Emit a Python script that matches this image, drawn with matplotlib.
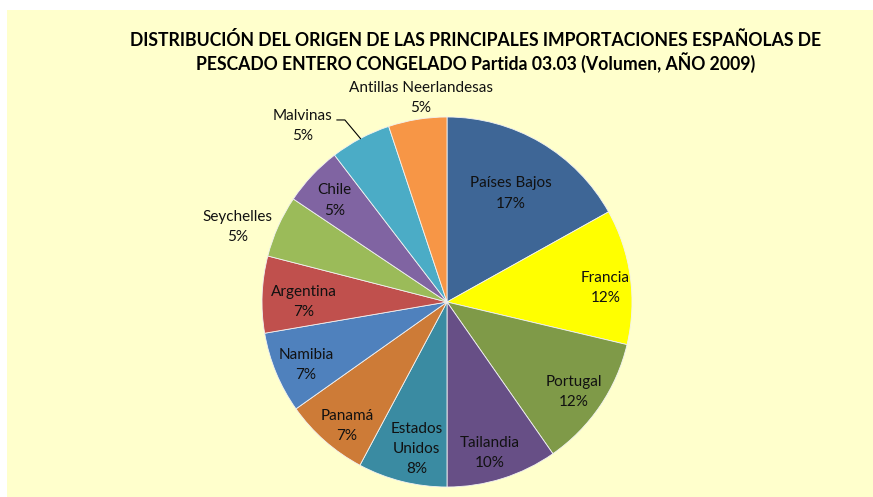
import numpy as np
import matplotlib.pyplot as plt
from matplotlib.patches import Rectangle

# Shares (percent of volume)
countries = ['Países Bajos', 'Francia', 'Portugal', 'Tailandia', 'Estados\nUnidos',
             'Panamá', 'Namibia', 'Argentina', 'Seychelles', 'Chile', 'Malvinas',
             'Antillas Neerlandesas']
shares = [16.9, 11.8, 11.6, 9.7, 7.8, 7.4, 7.1, 6.7, 5.4, 5.2, 5.3, 5.1]
colors = ['#3E6696', '#FFFF00', '#7F9A48', '#674F86', '#3A8BA2', '#CD7B37',
          '#4F81BD', '#C0504D', '#9BBB59', '#8064A2', '#4BACC6', '#F79646']

# label placement: fraction of the radius and clockwise nudge (deg) from mid-wedge
label_r = [0.68, 0.86, 0.84, 0.85, 0.81, 0.86, 0.835, 0.773, 1.20, 0.82, 1.233, 1.11]
label_nudge = [0, 2.8, 1.0, 1.7, -2.3, -2.4, -1.6, -2.3, -4.5, -1.2, -11.5, 1.9]

plt.rcParams['font.family'] = ['Lato', 'DejaVu Sans']

W, H = 873, 497
fig = plt.figure(figsize=(W / 100, H / 100), dpi=100, facecolor='white')
fig.patches.append(Rectangle((7 / W, 0), 1 - 7 / W, (H - 10) / H,
                             transform=fig.transFigure, facecolor='#FFFFCC',
                             edgecolor='none', zorder=-5))

fig.text(476 / W, 1 - 40 / H,
         'DISTRIBUCIÓN DEL ORIGEN DE LAS PRINCIPALES IMPORTACIONES ESPAÑOLAS DE',
         ha='center', va='center', fontsize=12.7, fontweight='bold', color='#000000')
fig.text(476 / W, 1 - 63 / H,
         'PESCADO ENTERO CONGELADO Partida 03.03 (Volumen, AÑO 2009)',
         ha='center', va='center', fontsize=12.7, fontweight='bold', color='#000000')

cx, cy, R = 447, 302, 185
ax = fig.add_axes([(cx - R) / W, (H - cy - R) / H, 2 * R / W, 2 * R / H])
ax.set_zorder(2)
ax.set_facecolor('none')
wedges, _ = ax.pie(shares, colors=colors, startangle=90, counterclock=False,
                   radius=1, wedgeprops=dict(edgecolor='#F2F2F2', linewidth=0.6))
ax.set_xlim(-1, 1)
ax.set_ylim(-1, 1)
ax.set_aspect('equal')
ax.axis('off')

for w, name, val, r, nd in zip(wedges, countries, shares, label_r, label_nudge):
    mid = (w.theta1 + w.theta2) / 2
    ang = np.deg2rad(mid - nd)
    x, y = r * np.cos(ang), r * np.sin(ang)
    txt = f'{name}\n{round(val):d}%'
    if name == 'Malvinas':
        # leader line from the wedge edge to the label
        m = np.deg2rad(mid)
        ax.plot([np.cos(m), -0.552, -0.595], [np.sin(m), 0.984, 0.984],
                color='black', lw=0.8, clip_on=False)
    ax.text(x, y, txt, ha='center', va='center', fontsize=11, color='#111111',
            linespacing=1.55)

fig.savefig('out.png', dpi=100, facecolor=fig.get_facecolor())
